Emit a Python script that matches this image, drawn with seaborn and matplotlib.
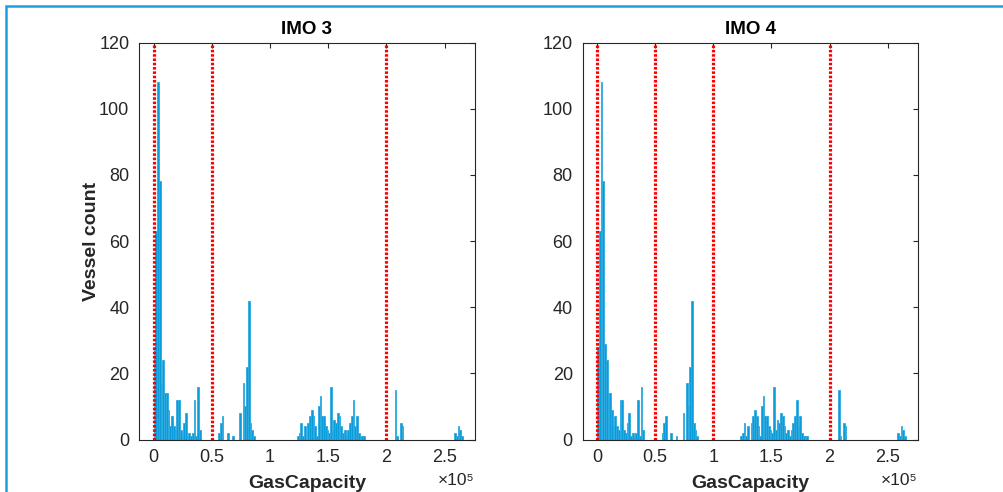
import numpy as np
import pandas as pd
import matplotlib
matplotlib.use("Agg")
import matplotlib.pyplot as plt
from matplotlib.patches import Rectangle
import seaborn as sns

# ---------------- data (histogram bins) ----------------
bin_width = 1500
capacity_imo3 = [750, 2250, 3750, 5250, 6750, 8250, 9750, 11250, 12750, 14250,
                 15750, 17250, 18750, 20250, 21750, 23250, 24750, 26250, 27750, 29250,
                 30750, 32250, 33750, 35250, 36750, 38250, 39750,
                 56250, 57750, 59250, 63750, 68250, 74250, 77250, 78750, 80250, 81750,
                 83250, 84750, 86250,
                 123750, 125250, 126750, 128250, 129750, 132750, 134250, 135750, 137250,
                 138750, 140250, 141750, 143250, 144750, 146250, 147750, 149250, 150750,
                 152250, 153750, 155250, 156750, 158250, 159750, 161250, 162750, 164250,
                 165750, 167250, 168750, 170250, 171750, 173250, 174750, 176250, 177750,
                 179250, 180750,
                 207750, 209250, 212250, 213750,
                 258750, 260250, 261750, 263250, 264750]
count_imo3 = [28, 63, 108, 78, 17, 24, 14, 14, 9, 4,
              7, 4, 3, 12, 12, 3, 2, 5, 8, 1,
              2, 1, 2, 12, 1, 16, 3,
              2, 5, 7, 2, 1, 8, 17, 10, 22, 42,
              5, 3, 1,
              1, 2, 5, 1, 4, 5, 7, 9, 7,
              4, 1, 10, 13, 7, 7, 4, 3, 2,
              16, 3, 6, 5, 8, 7, 4, 2, 3,
              1, 3, 5, 7, 12, 4, 7, 2, 1,
              1, 1,
              15, 1, 5, 4,
              2, 1, 4, 3, 1]

capacity_imo4 = list(capacity_imo3)
count_imo4 = [28, 63, 108, 78, 29, 24, 14, 14, 9, 4,
              7, 4, 3, 12, 12, 3, 2, 5, 8, 1,
              2, 1, 2, 12, 1, 16, 3,
              2, 5, 7, 2, 1, 8, 17, 10, 22, 42,
              5, 3, 1,
              1, 2, 5, 1, 4, 5, 7, 9, 7,
              4, 1, 10, 13, 7, 7, 4, 3, 2,
              16, 3, 6, 5, 8, 7, 4, 2, 3,
              1, 3, 5, 7, 12, 4, 7, 2, 1,
              1, 1,
              15, 1, 5, 4,
              2, 1, 4, 3, 1]

titles = ["IMO 3", "IMO 4"]
threshold_imo3 = [0, 50000, 200000]
threshold_imo4 = [0, 50000, 100000, 200000]
xtick_values = [0, 50000, 100000, 150000, 200000, 250000]
xtick_labels = ["0", "0.5", "1", "1.5", "2", "2.5"]
ytick_values = [0, 20, 40, 60, 80, 100, 120]
offset_label = "×10⁵"

# ---------------- style ----------------
sns.set_style("white")
plt.rcParams["font.family"] = ["Liberation Sans", "DejaVu Sans"]

bar_face = "#0A9CDA"
bar_edge = "#2FAAE0"
axis_color = "#262626"

fig = plt.figure(figsize=(10.04, 4.92), dpi=100)
ax1 = fig.add_axes([139 / 1004, 52.5 / 492, 336 / 1004, 397 / 492])
ax2 = fig.add_axes([582.5 / 1004, 52.5 / 492, 335.5 / 1004, 397 / 492])

edges = [float(e) for e in np.arange(0, 180 * bin_width + 1, bin_width)]

panels = [
    (ax1, capacity_imo3, count_imo3, threshold_imo3, titles[0]),
    (ax2, capacity_imo4, count_imo4, threshold_imo4, titles[1]),
]

for i, (ax, caps, counts, thresholds, title) in enumerate(panels):
    df = pd.DataFrame({"GasCapacity": caps, "n": counts})
    sns.histplot(data=df, x="GasCapacity", weights="n", bins=edges, ax=ax,
                 color=bar_face, alpha=1, edgecolor=bar_edge, linewidth=0.6)
    for v in thresholds:
        ax.axvline(v, color="#FF0000", linestyle=(0, (0.8, 0.55)), linewidth=2.3, zorder=4)
    ax.set_xlim(-12500, 276000)
    ax.set_ylim(0, 120)
    ax.set_xticks(xtick_values)
    ax.set_xticklabels(xtick_labels)
    ax.set_yticks(ytick_values)
    ax.tick_params(direction="in", top=True, right=True, length=3.5, width=0.8,
                   colors=axis_color, labelsize=13, pad=7)
    for s in ax.spines.values():
        s.set_visible(True)
        s.set_color(axis_color)
        s.set_linewidth(0.8)
    ax.set_title(title, fontsize=13.5, fontweight="bold", pad=6, color="black")
    ax.set_xlabel("GasCapacity", fontsize=14, fontweight="bold", labelpad=6, color=axis_color)
    if i == 0:
        ax.set_ylabel("Vessel count", fontsize=14, fontweight="bold", labelpad=-1, color=axis_color)
    else:
        ax.set_ylabel("")
    ax.text(1.0, -0.085, offset_label, transform=ax.transAxes, ha="right", va="top",
            fontsize=12.5, color=axis_color)

# frame line of the figure (top and left visible)
fig.add_artist(Rectangle((6 / 1004, -0.5), 2.0, 0.5 + 1 - 6 / 492,
                         transform=fig.transFigure, fill=False,
                         edgecolor="#1BA1DE", linewidth=1.8, clip_on=False))

fig.savefig("out.png", dpi=100)
